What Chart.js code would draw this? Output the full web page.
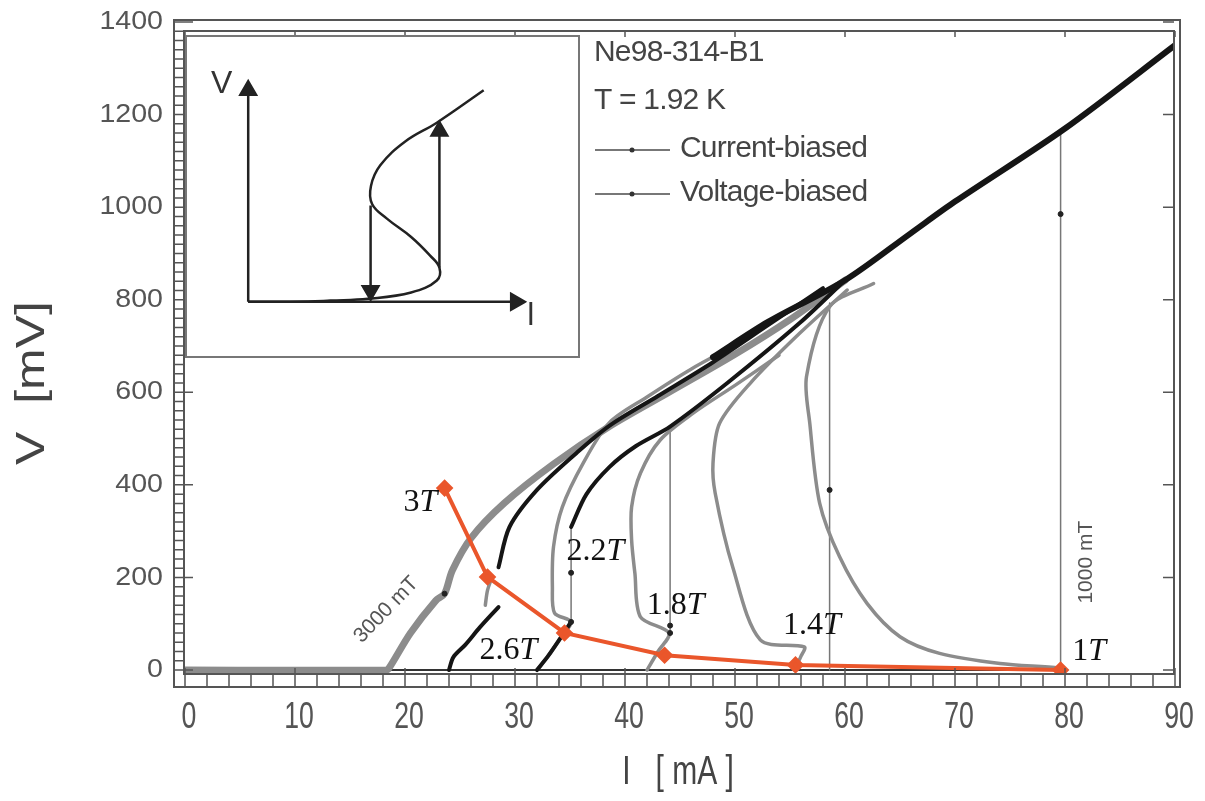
<!DOCTYPE html>
<html>
<head>
<meta charset="utf-8">
<title>V-I curves, Ne98-314-B1</title>
<script src="https://cdn.jsdelivr.net/npm/chart.js@4.4.0/dist/chart.umd.min.js"></script>
<style>
  html, body { margin: 0; padding: 0; background: #fff; }
  #wrap { position: relative; width: 1205px; height: 801px; }
  #main { position: absolute; left: 0; top: 0; }
  #inset { position: absolute; left: 185px; top: 35px; }
</style>
</head>
<body>
<div id="wrap">
  <canvas id="main" width="1205" height="801"></canvas>
  <canvas id="inset" width="395" height="323"></canvas>
</div>
<script>
// axis ticks
const xTicks = [0, 10, 20, 30, 40, 50, 60, 70, 80, 90];
const yTicks = [0, 200, 400, 600, 800, 1000, 1200, 1400];

// voltage-biased traces (grey), [I mA, V mV]
const vb3T  = [[0,0],[18.3,0],[18.6,6],[20.5,80],[22.8,150],[23.6,165],[24.3,215],[26,285],[29,360],[33.5,445],[38.5,525],[44,600],[50,682],[55,757],[60,842]];
const vb26T = [[27.3,140],[27.5,172],[27.9,200]];
const vb22T = [[32,0],[33,30],[34.1,68],[35.1,104],[33.6,123],[33.4,179],[33.5,266],[34.3,352],[36.2,447],[38.6,535],[42,590],[46,650],[50,702]];
const vb18T = [[42,0],[43,40],[44,80],[41.4,115],[40.9,209],[40.6,281],[40.6,352],[41.4,425],[43.2,497],[46.2,555],[50,615],[54,680]];
const vb14T = [[55.4,0],[56,30],[56.3,50],[52.3,65],[49.8,222],[48.2,382],[48,447],[48.6,533],[51.4,620],[55.9,728],[60.2,821]];
const vb1T  = [[79.5,0],[79.5,4],[74.1,14],[68.6,36],[65,72],[62,144],[59.5,245],[57.7,360],[56.8,533],[56.5,634],[58.6,785],[62.6,835]];

// current-biased traces (black)
const cb26T   = [[24,0],[24.4,28],[25.5,55],[26.8,92],[28.5,136]];
const cb26Tup = [[28.5,222],[29.5,309],[32,389],[35.6,469],[38.6,528],[43,592],[48,665],[53,745],[58,825]];
const cb22T   = [[32,0],[33,30],[34.1,68],[35.1,104]];
const cb22Tup = [[35.1,309],[36.5,380],[38.6,439],[41,484],[44.1,526],[49.3,620],[55.9,750],[60,842]];
const cbUpper = [[48,676],[53,752],[60,842],[66,944],[70,1012],[80,1170],[90,1350]];
const zeroLine = [[0,0],[79.6,0]];

// current-biased switching jumps
const jumpI    = [35.1, 44.1, 58.6, 79.6];
const jumpFrom = [104, 80, 0, 0];
const jumpTo   = [309, 520, 793, 1160];

// measurement dots
const dotI = [23.6, 35.1, 35.1, 44.1, 44.1, 58.6, 79.6];
const dotV = [165, 104, 210, 80, 96, 389, 985];

// critical points (red)
const redI = [23.6, 27.5, 34.5, 43.6, 55.5, 79.6];
const redV = [393, 201, 80, 32, 11, 0];
const fieldNames = ['3', '2.6', '2.2', '1.8', '1.4', '1'];
const fieldLabelI = [21.4, 29.4, 37.3, 44.6, 57.0, 82.2];
const fieldLabelV = [361, 41, 255, 140, 97, 39];

// rotated field notes
const noteText  = ['3000 mT', '1000 mT'];
const noteI     = [18.3, 81.9];
const noteV     = [130, 233];
const noteAngle = [-46, -90];

// inset sketch (arbitrary units 0-100)
const insetCurve = [[13.9,14.9],[30,15.0],[36,15.3],[46.1,15.9],[57.7,18.0],[64.6,22.0],[65.3,26.3],[62.8,30.3],[57.7,36.5],[51.1,42.7],[47.2,47.5],[46.9,53.5],[49.4,60.4],[56.2,68.4],[64.6,74.6],[77.2,85.4]];
const insetAxisV = [[13.9,14.9],[13.9,85.4]];
const insetAxisI = [[13.9,14.9],[85.8,14.9]];
const insetDown  = [[46.8,47.0],[46.8,18.6]];
const insetUp    = [[65.3,26.3],[65.3,71.8]];

const pts = a => a.map(([x, y]) => ({ x, y }));
const GREY = '#8c8c8c', BLACK = '#151515', RED = '#ea562b';
const SANS = '"Liberation Sans", Arial, sans-serif';
const SERIF = '"Liberation Serif", "Times New Roman", serif';

function line(data, color, width, order, extra) {
    return Object.assign({
        data: pts(data), showLine: true, borderColor: color, backgroundColor: color,
        borderWidth: width, pointRadius: 0, tension: 0.3, order: order,
        borderCapStyle: 'round', borderJoinStyle: 'round'
    }, extra || {});
}

const datasets = [];
datasets.push(line(zeroLine, '#333', 2, 9, { tension: 0 }));
[vb22T, vb18T, vb14T, vb1T, vb26T].forEach(d => datasets.push(line(d, GREY, 3.5, 7)));
datasets.push(line(vb3T, GREY, 7, 6));
jumpI.forEach((I, i) => datasets.push(line([[I, jumpFrom[i]], [I, jumpTo[i]]], '#777', 1.5, 8, { tension: 0 })));
[cb26T, cb26Tup, cb22T, cb22Tup].forEach(d => datasets.push(line(d, BLACK, 4, 5)));
datasets.push(line(cbUpper, BLACK, 6, 4));
datasets.push({
    data: dotI.map((x, i) => ({ x, y: dotV[i] })), showLine: false,
    pointRadius: 2.5, backgroundColor: '#222', borderColor: '#222', order: 2
});
datasets.push({
    data: redI.map((x, i) => ({ x, y: redV[i] })), showLine: true, tension: 0,
    borderColor: RED, backgroundColor: RED, borderWidth: 4,
    pointStyle: 'rectRot', pointRadius: 6, order: 0
});

// text drawn with a horizontal stretch factor
function stretchText(ctx, text, px, py, sx, align) {
    ctx.save();
    ctx.translate(px, py);
    ctx.scale(sx, 1);
    ctx.textAlign = align;
    ctx.fillText(text, 0, 0);
    ctx.restore();
}

const framePlugin = {
    id: 'frame',
    afterDraw(chart) {
        const { ctx, chartArea: { left: L, right: R, top: T, bottom: B }, scales: { x, y } } = chart;
        ctx.save();
        ctx.strokeStyle = '#555';
        ctx.lineWidth = 2;
        ctx.strokeRect(L - 11, T - 2, R + 5 - (L - 11), B + 13 - (T - 2));
        ctx.strokeRect(L - 1, T + 9, R - L, B - T - 9);
        ctx.lineWidth = 1.5;
        ctx.beginPath();
        for (let v = 0; v <= 1400; v += 20) {
            const py = y.getPixelForValue(v);
            ctx.moveTo(L - 11, py); ctx.lineTo(L - 1, py);
        }
        for (let I = 0; I <= 90; I += 2) {
            const px = x.getPixelForValue(I);
            ctx.moveTo(px, B); ctx.lineTo(px, B + 13);
        }
        yTicks.forEach(v => {
            const py = y.getPixelForValue(v);
            ctx.moveTo(L - 1, py); ctx.lineTo(L + 8, py);
            ctx.moveTo(R - 1, py); ctx.lineTo(R - 12, py);
        });
        xTicks.forEach(I => {
            const px = x.getPixelForValue(I);
            ctx.moveTo(px, T + 9); ctx.lineTo(px, T + 15);
            ctx.moveTo(px, B); ctx.lineTo(px, B - 6);
        });
        ctx.stroke();

        // tick labels
        ctx.fillStyle = '#555';
        ctx.textBaseline = 'middle';
        ctx.font = '26px ' + SANS;
        y.ticks.forEach(t => stretchText(ctx, String(t.value), L - 22, y.getPixelForValue(t.value), 1.1, 'right'));
        ctx.font = '37px ' + SANS;
        x.ticks.forEach(t => stretchText(ctx, String(t.value), x.getPixelForValue(t.value) + 4, B + 44, 0.72, 'center'));

        // header and legend
        ctx.fillStyle = '#444';
        ctx.textAlign = 'left';
        ctx.font = '30px ' + SANS;
        ctx.letterSpacing = '-0.8px';
        ctx.fillText('Ne98-314-B1', 594, 53);
        ctx.fillText('T = 1.92 K', 594, 101);
        ctx.fillText('Current-biased', 680, 149);
        ctx.fillText('Voltage-biased', 680, 193);
        ctx.letterSpacing = '0px';
        ctx.strokeStyle = '#777';
        ctx.lineWidth = 2;
        [150, 194].forEach(ly => {
            ctx.beginPath(); ctx.moveTo(595, ly); ctx.lineTo(670, ly); ctx.stroke();
            ctx.fillStyle = '#333';
            ctx.beginPath(); ctx.arc(632, ly, 2.5, 0, Math.PI * 2); ctx.fill();
        });

        // field labels on the red curve
        ctx.fillStyle = '#111';
        fieldNames.forEach((n, i) => {
            const px = x.getPixelForValue(fieldLabelI[i]);
            const py = y.getPixelForValue(fieldLabelV[i]);
            ctx.font = '32px ' + SERIF;
            const w1 = ctx.measureText(n).width;
            ctx.font = 'italic 32px ' + SERIF;
            const w2 = ctx.measureText('T').width;
            const x0 = px - (w1 + w2) / 2;
            ctx.font = '32px ' + SERIF;
            ctx.fillText(n, x0, py);
            ctx.font = 'italic 32px ' + SERIF;
            ctx.fillText('T', x0 + w1, py);
        });

        // rotated notes
        ctx.fillStyle = '#555';
        ctx.textAlign = 'center';
        ctx.font = '21px ' + SANS;
        noteText.forEach((t, i) => {
            ctx.save();
            ctx.translate(x.getPixelForValue(noteI[i]), y.getPixelForValue(noteV[i]));
            ctx.rotate(noteAngle[i] * Math.PI / 180);
            ctx.fillText(t, 0, 0);
            ctx.restore();
        });

        // axis titles
        ctx.fillStyle = '#444';
        ctx.save();
        ctx.translate(33, 383);
        ctx.rotate(-Math.PI / 2);
        ctx.font = '40px ' + SANS;
        stretchText(ctx, 'V  [mV]', 0, 0, 1.25, 'center');
        ctx.restore();
        ctx.font = '40px ' + SANS;
        stretchText(ctx, 'I   [ mA ]', 678, 773, 0.75, 'center');
        ctx.restore();
    }
};

new Chart(document.getElementById('main'), {
    type: 'scatter',
    data: { datasets: datasets },
    options: {
        responsive: false,
        animation: false,
        events: [],
        layout: { padding: { left: 0, top: 22, right: 30, bottom: 0 } },
        plugins: { legend: { display: false }, tooltip: { enabled: false } },
        scales: {
            x: {
                type: 'linear', min: 0, max: 90,
                grid: { display: false, drawTicks: false },
                border: { display: false },
                ticks: { display: false },
                afterBuildTicks: s => { s.ticks = xTicks.map(v => ({ value: v })); },
                afterFit: s => { s.height = 127; s.paddingLeft = 0; s.paddingRight = 0; }
            },
            y: {
                type: 'linear', min: -8.6, max: 1400,
                grid: { display: false, drawTicks: false },
                border: { display: false },
                ticks: { display: false },
                afterBuildTicks: s => { s.ticks = yTicks.map(v => ({ value: v })); },
                afterFit: s => { s.width = 185; s.paddingTop = 0; s.paddingBottom = 0; }
            }
        }
    },
    plugins: [framePlugin]
});

// inset sketch of the S-shaped characteristic
const insetPlugin = {
    id: 'insetFrame',
    beforeDraw(chart) {
        const { ctx, width, height } = chart;
        ctx.save();
        ctx.fillStyle = '#fff';
        ctx.fillRect(0, 0, width, height);
        ctx.strokeStyle = '#777';
        ctx.lineWidth = 2;
        ctx.strokeRect(1, 1, width - 2, height - 2);
        ctx.restore();
    },
    afterDraw(chart) {
        const { ctx, scales: { x, y } } = chart;
        ctx.save();
        ctx.fillStyle = '#333';
        ctx.textAlign = 'center';
        ctx.textBaseline = 'middle';
        ctx.font = '32px ' + SANS;
        ctx.fillText('V', x.getPixelForValue(6.8), y.getPixelForValue(87.6));
        ctx.fillText('l', x.getPixelForValue(89.9), y.getPixelForValue(10.2));
        ctx.restore();
    }
};

function arrow(data, rot) {
    return {
        data: pts(data), showLine: true, borderColor: '#222', backgroundColor: '#222',
        borderWidth: 2.5, pointRadius: [0, 9], pointStyle: 'triangle', rotation: rot, tension: 0
    };
}

new Chart(document.getElementById('inset'), {
    type: 'scatter',
    data: {
        datasets: [
            arrow(insetAxisV, 0), arrow(insetAxisI, 90), arrow(insetDown, 180), arrow(insetUp, 0),
            { data: pts(insetCurve), showLine: true, borderColor: '#222', borderWidth: 2.5, pointRadius: 0, tension: 0.4 }
        ]
    },
    options: {
        responsive: false, animation: false, events: [],
        layout: { padding: 0 },
        plugins: { legend: { display: false }, tooltip: { enabled: false } },
        scales: {
            x: { type: 'linear', min: 0, max: 100, display: false },
            y: { type: 'linear', min: 0, max: 100, display: false }
        }
    },
    plugins: [insetPlugin]
});
</script>
</body>
</html>
